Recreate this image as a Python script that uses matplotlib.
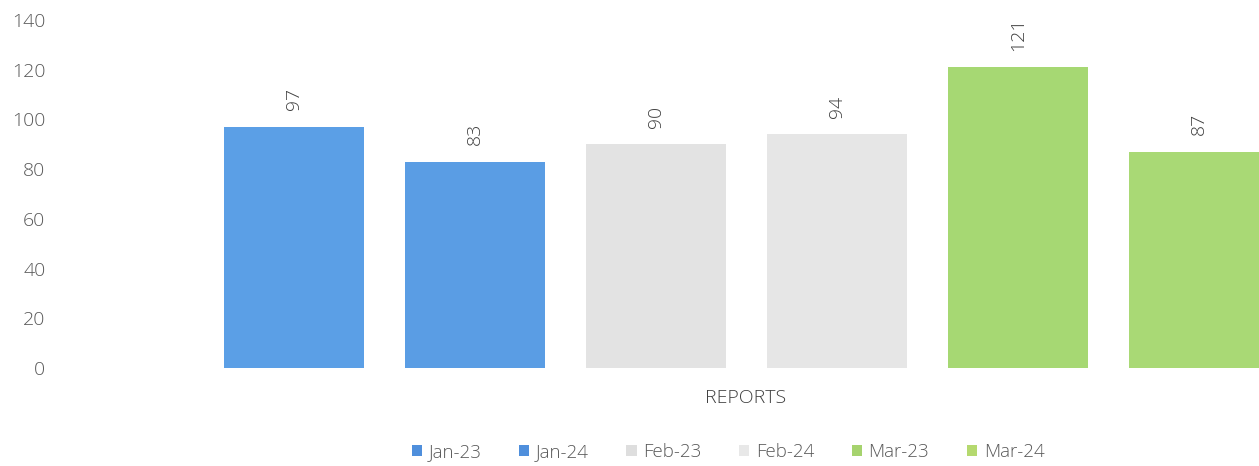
import matplotlib
matplotlib.use("Agg")
import matplotlib.pyplot as plt
from matplotlib.patches import Patch

# Monthly report counts
series = ["Jan-23", "Jan-24", "Feb-23", "Feb-24", "Mar-23", "Mar-24"]
values = [97, 83, 90, 94, 121, 87]
colors = ["#5b9fe6", "#5a9de4", "#e3e3e3", "#e6e6e6", "#a6d873", "#a9d975"]
legend_colors = ["#4f8fdc", "#4f8fdc", "#dedede", "#e8e8e8", "#a6d36e", "#b5d96f"]
yticks = [0, 20, 40, 60, 80, 100, 120, 140]
category = "REPORTS"

plt.rcParams["font.family"] = ["Open Sans", "DejaVu Sans"]
plt.rcParams["font.weight"] = "light"

W, H = 1259, 466
fig = plt.figure(figsize=(W / 100, H / 100), dpi=100)
left_px, right_px = 62, 1259
bottom_px, top_px = 368, 20
ax = fig.add_axes([left_px / W, (H - bottom_px) / H,
                   (right_px - left_px) / W, (bottom_px - top_px) / H])

xs = list(range(len(series)))
bars = ax.bar(xs, values, width=0.773, color=colors, zorder=2)
for x, v in zip(xs, values):
    ax.annotate(str(v), (x, v), xytext=(0, 12), textcoords="offset points",
                rotation=90, ha="center", va="bottom", fontsize=14,
                color="#404040", fontweight="light")

ax.set_xlim((left_px - 294) / 181, (right_px - 294) / 181)
ax.set_ylim(0, 140)
ax.set_yticks(yticks)
ax.set_yticklabels([str(t) for t in yticks], fontsize=14, color="#595959",
                   fontweight="light")
ax.tick_params(axis="y", length=0, pad=12)
ax.set_xticks([])
for s in ax.spines.values():
    s.set_visible(False)

fig.text(746 / W, 1 - 398 / H, category, ha="center", va="center",
         fontsize=14, color="#404040", fontweight="light")

handles = [Patch(facecolor=c, edgecolor="none") for c in legend_colors]
fig.legend(handles, series, loc="center", bbox_to_anchor=(728 / W, 1 - 452 / H),
           ncol=6, frameon=False, prop={"size": 13.5, "weight": "light"},
           handlelength=0.55, handleheight=0.55, handletextpad=0.35,
           columnspacing=2.0, labelcolor="#595959")

fig.savefig("out.png", dpi=100)
